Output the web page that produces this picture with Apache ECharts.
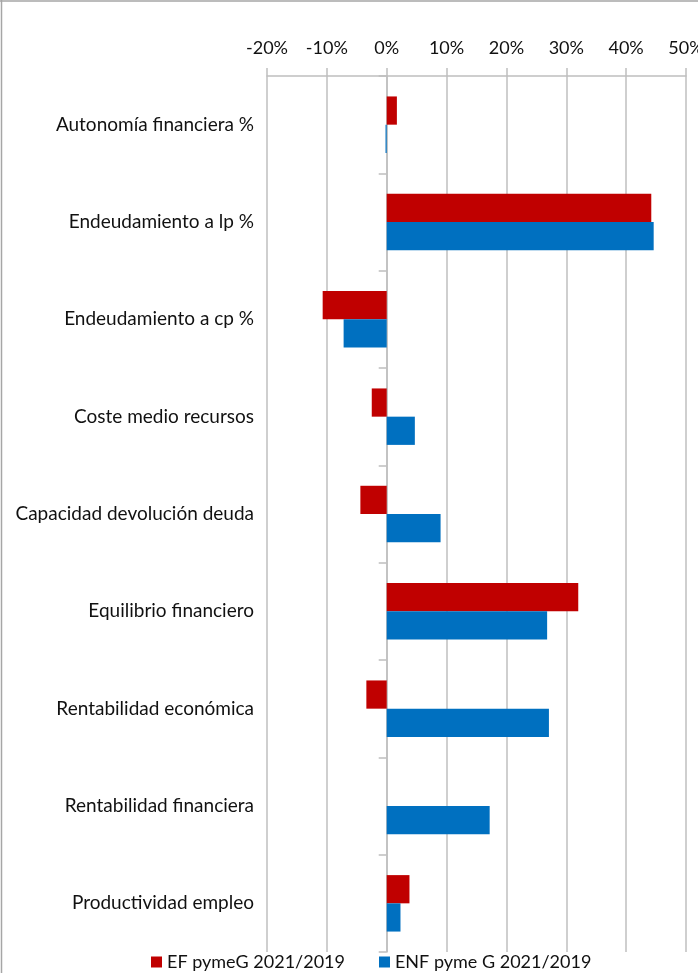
<!DOCTYPE html>
<html>
<head>
<meta charset="utf-8">
<script src="https://cdn.jsdelivr.net/npm/echarts@6/dist/echarts.min.js"></script>
<style>
html,body{margin:0;padding:0;background:#fff;}
#chart{width:698px;height:973px;}
</style>
</head>
<body>
<div id="chart"></div>
<script>
const categories = [
  'Autonomía financiera %',
  'Endeudamiento a lp %',
  'Endeudamiento a cp %',
  'Coste medio recursos',
  'Capacidad devolución deuda',
  'Equilibrio financiero',
  'Rentabilidad económica',
  'Rentabilidad financiera',
  'Productividad empleo'
];
const seriesNames = ['EF pymeG 2021/2019', 'ENF pyme G 2021/2019'];
const efValues  = [1.7, 44.2, -10.7, -2.5, -4.4, 32.0, -3.4, 0, 3.8];
const enfValues = [-0.2, 44.6, -7.2, 4.7, 9.0, 26.8, 27.1, 17.2, 2.3];
const axisMin = -20, axisMax = 50, axisStep = 10;

const FONT = 'Lato';
const grey = '#BFBFBF';
const chart = echarts.init(document.getElementById('chart'));
chart.setOption({
  animation: false,
  backgroundColor: '#ffffff',
  textStyle: { fontFamily: FONT },
  grid: { left: 267, right: 12, top: 76, bottom: 21, outerBoundsMode: 'none', containLabel: false },
  legend: {
    bottom: -3,
    left: 146,
    icon: 'rect',
    itemWidth: 11,
    itemHeight: 11,
    itemGap: 34,
    textStyle: { fontFamily: FONT, fontSize: 18, color: '#111' },
    data: seriesNames
  },
  xAxis: {
    type: 'value',
    position: 'top',
    min: axisMin,
    max: axisMax,
    interval: axisStep,
    axisLine: { show: true, lineStyle: { color: grey, width: 1.5 } },
    axisTick: { show: true, length: 8, lineStyle: { color: grey, width: 1.5 } },
    axisLabel: { formatter: '{value}%', fontFamily: FONT, fontSize: 18, color: '#111', margin: 19 },
    splitLine: { show: true, lineStyle: { color: grey, width: 1.5 } }
  },
  yAxis: [
    {
      type: 'category',
      data: categories,
      inverse: true,
      axisLine: { show: true, onZero: true, lineStyle: { color: grey, width: 1.5 } },
      axisTick: { show: true, length: 8, interval: 0, lineStyle: { color: grey, width: 1.5 } },
      axisLabel: { show: false },
      splitLine: { show: false }
    },
    {
      type: 'category',
      data: categories,
      inverse: true,
      position: 'left',
      axisLine: { show: false, onZero: false },
      axisTick: { show: false },
      axisLabel: { show: true, fontFamily: FONT, fontSize: 19, color: '#111', margin: 13, interval: 0 },
      splitLine: { show: false }
    }
  ],
  series: [
    {
      name: seriesNames[0],
      type: 'bar',
      yAxisIndex: 0,
      data: efValues,
      barCategoryGap: '42%',
      barGap: '0%',
      itemStyle: { color: '#C00000' }
    },
    {
      name: seriesNames[1],
      type: 'bar',
      yAxisIndex: 0,
      data: enfValues,
      barCategoryGap: '42%',
      barGap: '0%',
      itemStyle: { color: '#0070C0' }
    }
  ],
  graphic: [
    { type: 'line', shape: { x1: 1.5, y1: 0, x2: 1.5, y2: 973 }, style: { stroke: '#A6A6A6', lineWidth: 1.5 } },
    { type: 'line', shape: { x1: 0, y1: 1, x2: 698, y2: 1 }, style: { stroke: '#A6A6A6', lineWidth: 1.5 } }
  ]
});
</script>
</body>
</html>
